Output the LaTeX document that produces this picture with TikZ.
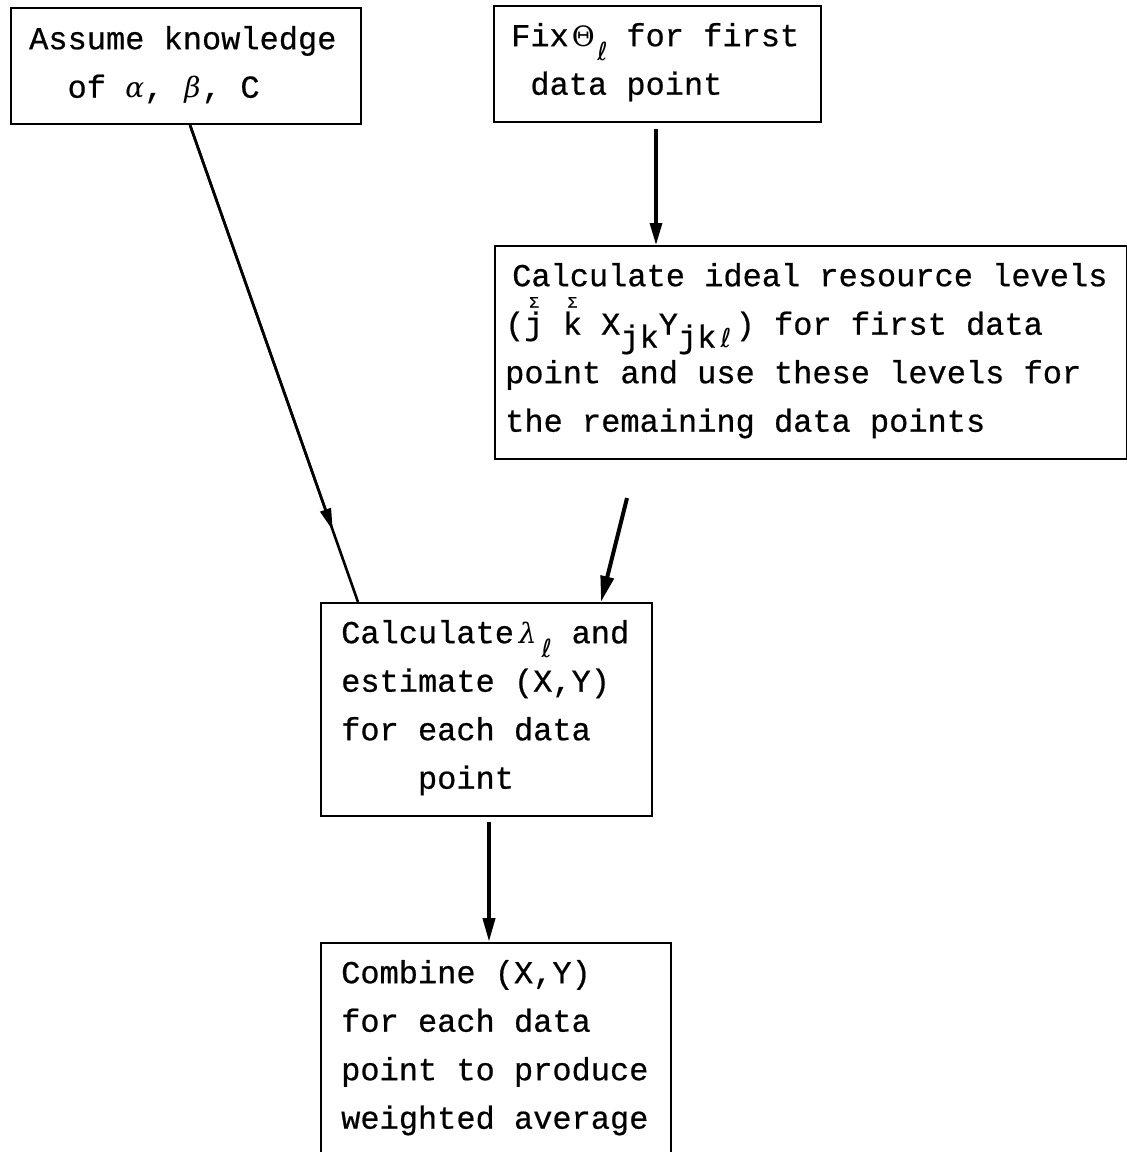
\documentclass[tikz,border=0pt]{standalone}
\usepackage{fontspec}
\setmonofont{Liberation Mono}[FakeBold=0.6]
\newfontfamily\gkf{DejaVu Serif}
\newfontfamily\ellf{DejaVu Sans}
\usetikzlibrary{arrows.meta,calc}
\tikzset{
  x=1pt, y=-1pt,
  box/.style={draw, line width=2pt, inner sep=0pt, anchor=north west},
  txt/.style={inner sep=0pt, anchor=north west, align=left,
              font=\ttfamily\fontsize{32}{48.5}\selectfont},
  arr/.style={line width=3.2pt, -{Triangle[length=22pt,width=12pt]}},
  ln/.style={line width=2.6pt},
}
\newcommand\fst{\rule{0pt}{26pt}}
\newcommand\cellbox[1]{\makebox[19.2pt]{#1}}
\newcommand\gk[1]{{\gkf\fontsize{28}{28}\selectfont #1}}
\newcommand\gki[1]{{\gkf\itshape\fontsize{28}{28}\selectfont #1}}
\newcommand\ellc{{\ellf\fontsize{26}{26}\selectfont ℓ}}
\newcommand\lowr[1]{\raisebox{-13pt}{#1}}
\newcommand\ellsub{\cellbox{\raisebox{-14pt}{\ellf\fontsize{25}{25}\selectfont ℓ}}}
\newcommand\sgover[1]{\makebox[0pt][l]{\makebox[19.2pt]{\raisebox{27pt}{\fontsize{16}{16}\selectfont Σ}}}#1}
\begin{document}
\begin{tikzpicture}
\useasboundingbox (0,0) rectangle (1127,1152);

% boxes
\node[box, minimum width=350pt, minimum height=116pt] (A) at (10,7) {};
\node[box, minimum width=327pt, minimum height=116pt] (B) at (493,5) {};
\node[box, minimum width=632pt, minimum height=213pt] (C) at (494,245) {};
\node[box, minimum width=331pt, minimum height=213pt] (D) at (320,602) {};
\node[box, minimum width=350pt, minimum height=216pt] (E) at (320,942) {};

% texts
\node[txt] (At) at (29,23) {\fst Assume knowledge\\
  \hspace*{38.4pt}of \cellbox{\gki{α}}, \cellbox{\gki{β}}, C};
\node[txt] (Bt) at (511,20) {\fst Fix\hspace{5pt}\cellbox{\gk{Θ}}\ellsub\hspace{-5pt}\ for first\\
  \hspace*{19.2pt}data point};
\node[txt] (Ct) at (505,260) {\fst\hspace*{7pt}Calculate ideal resource levels\\
  (\sgover{j} \sgover{k} X\lowr{jk}Y\lowr{jk\cellbox{\ellc}}) for first data\\
  point and use these levels for\\
  the remaining data points};
\node[txt] (Dt) at (341,617) {\fst Calculate\hspace{4pt}\cellbox{\gki{λ}}\ellsub\hspace{-4pt}\ and\\
  estimate (X,Y)\\
  for each data\\
  \hspace*{76.8pt}point};
\node[txt] (Et) at (341,957) {\fst Combine (X,Y)\\
  for each data\\
  point to produce\\
  weighted average};

% connectors
\coordinate (a1) at ([xshift=180pt]A.south west);
\coordinate (a2) at ([xshift=38pt]D.north west);
\draw[ln] (a1) -- (a2);
\draw[arr, line width=2.6pt, -{Triangle[length=22pt,width=11pt]}] (a1) -- ($(a1)!0.85!(a2)$);

\coordinate (b1) at ([xshift=163pt,yshift=-6pt]B.south west);
\draw[arr] (b1) -- (b1 |- C.north);

\coordinate (c1) at ([xshift=133pt,yshift=-38pt]C.south west);
\coordinate (c2) at ([xshift=281pt]D.north west);
\draw[arr, line width=4pt, -{Triangle[length=26pt,width=13pt]}] (c1) -- (c2);

\coordinate (d1) at ([xshift=169pt,yshift=-5pt]D.south west);
\draw[arr, line width=4pt, -{Triangle[length=24pt,width=12pt]}] (d1) -- (d1 |- E.north);
\end{tikzpicture}
\end{document}
